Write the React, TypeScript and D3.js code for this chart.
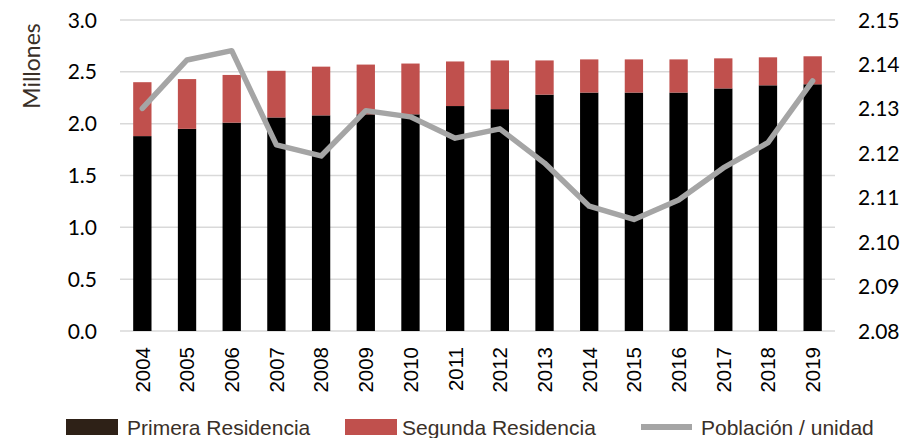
import * as d3 from "d3";

const years = ["2004", "2005", "2006", "2007", "2008", "2009", "2010", "2011", "2012", "2013", "2014", "2015", "2016", "2017", "2018", "2019"];
const primera = [1.88, 1.95, 2.01, 2.06, 2.08, 2.09, 2.09, 2.17, 2.14, 2.28, 2.3, 2.3, 2.3, 2.34, 2.37, 2.38];
const segunda = [0.52, 0.48, 0.46, 0.45, 0.47, 0.48, 0.49, 0.43, 0.47, 0.33, 0.32, 0.32, 0.32, 0.29, 0.27, 0.27];
const poblacion = [2.1301, 2.141, 2.1431, 2.1219, 2.1194, 2.1296, 2.1282, 2.1234, 2.1255, 2.1178, 2.1081, 2.1051, 2.1095, 2.1167, 2.1224, 2.1363];
const leftTicks = [0, 0.5, 1, 1.5, 2, 2.5, 3];
const rightTicks = [2.08, 2.09, 2.1, 2.11, 2.12, 2.13, 2.14, 2.15];

const W = 905;
const H = 438;
const left = 120;
const right = 835;
const top = 20;
const bottom = 331;

const numFont = "Lato, 'Open Sans', sans-serif";
const arial = "'Liberation Sans', Arial, sans-serif";
const textCol = "#3a3028";

export default function App() {
  const x = d3.scaleBand<string>().domain(years).range([left, right]).paddingInner(0.59).paddingOuter(0.295);
  const y = d3.scaleLinear().domain([0, 3]).range([bottom, top]);
  const y2 = d3.scaleLinear().domain([2.08, 2.15]).range([bottom, top]);

  const line = d3
    .line<number>()
    .x((_, i) => x(years[i])! + x.bandwidth() / 2)
    .y((d) => y2(d));

  return (
    <svg width={W} height={H} style={{ position: "absolute", left: 0, top: 0, background: "#fff" }}>
      {/* gridlines */}
      {leftTicks.map((t) => (
        <line key={"g" + t} x1={left} x2={right} y1={y(t)} y2={y(t)} stroke="#d9d9d9" strokeWidth={1.5} />
      ))}
      {/* bars */}
      {years.map((yr, i) => (
        <g key={yr}>
          <rect x={x(yr)} width={x.bandwidth()} y={y(primera[i])} height={y(0) - y(primera[i])} fill="#000" />
          <rect
            x={x(yr)}
            width={x.bandwidth()}
            y={y(primera[i] + segunda[i])}
            height={y(primera[i]) - y(primera[i] + segunda[i])}
            fill="#c0504d"
          />
        </g>
      ))}
      <path d={line(poblacion) ?? ""} fill="none" stroke="#a5a5a5" strokeWidth={5.5} strokeLinejoin="round" strokeLinecap="round" />

      {/* left axis labels */}
      {leftTicks.map((t) => (
        <text key={"l" + t} x={97} y={y(t)} dy="0.36em" textAnchor="end" fontFamily={numFont} fontSize={21} fill="#000">
          {t.toFixed(1)}
        </text>
      ))}
      {rightTicks.map((t) => (
        <text key={"r" + t} x={858} y={y2(t)} dy="0.36em" textAnchor="start" fontFamily={numFont} fontSize={21} fill="#000">
          {t.toFixed(2)}
        </text>
      ))}
      <text
        transform={`translate(32,66) rotate(-90)`}
        textAnchor="middle"
        dy="0.35em"
        fontFamily={numFont}
        fontSize={23}
        fill={textCol}
      >
        Millones
      </text>

      {/* x labels */}
      {years.map((yr) => (
        <text
          key={"x" + yr}
          transform={`translate(${x(yr)! + x.bandwidth() / 2},347) rotate(-90)`}
          textAnchor="end"
          dy="0.36em"
          fontFamily={arial}
          fontSize={20.5}
          fill="#000"
        >
          {yr}
        </text>
      ))}

      {/* legend */}
      <rect x={66} y={419} width={52} height={16} fill="#2e2117" />
      <text x={127} y={435} fontFamily={arial} fontSize={21} fill={textCol}>
        Primera Residencia
      </text>
      <rect x={345} y={419} width={52} height={16} fill="#c0504d" />
      <text x={402} y={435} fontFamily={arial} fontSize={21} fill={textCol}>
        Segunda Residencia
      </text>
      <line x1={641} x2={692} y1={427} y2={427} stroke="#a5a5a5" strokeWidth={6} />
      <text x={701} y={435} fontFamily={arial} fontSize={21} fill={textCol}>
        Población / unidad
      </text>
    </svg>
  );
}
